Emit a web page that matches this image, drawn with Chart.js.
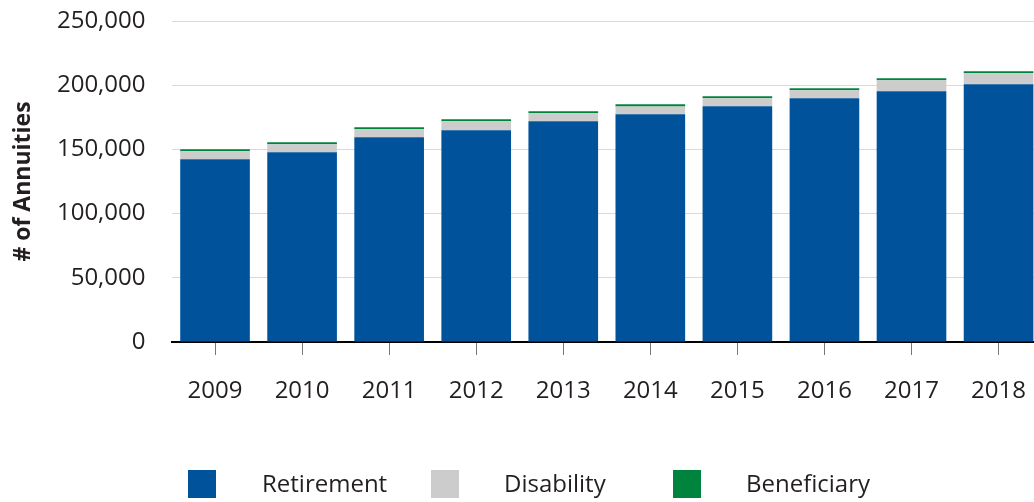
<!DOCTYPE html>
<html>
<head>
<meta charset="utf-8">
<script src="https://cdn.jsdelivr.net/npm/chart.js@4"></script>
<style>
  html, body { margin: 0; padding: 0; background: #fff; overflow: hidden; }
  #wrap { position: relative; width: 1048px; height: 502px; }
  #legend { position: absolute; left: 0; top: 0; width: 1034px; height: 502px; pointer-events: none;
            font-family: 'Open Sans', sans-serif; font-size: 24px; color: #231f20; }
  .lg-box { position: absolute; top: 470px; width: 28px; height: 28px; }
  .lg-text { position: absolute; top: 469px; line-height: 28px; white-space: nowrap; }
</style>
</head>
<body>
<div id="wrap">
  <canvas id="annuityChart"></canvas>
  <div id="legend"></div>
</div>
<script>
const years = ['2009', '2010', '2011', '2012', '2013', '2014', '2015', '2016', '2017', '2018'];
const retirement = [142300, 147700, 159400, 164900, 171900, 177300, 183600, 189800, 195200, 200700];
const disability = [6200, 6300, 6200, 7000, 6200, 6200, 6200, 6200, 8600, 8600];
const beneficiary = [1600, 1600, 1600, 1600, 1600, 1600, 1600, 1600, 1600, 1600];
const yTicks = [0, 50000, 100000, 150000, 200000, 250000];

const seriesNames = ['Retirement', 'Disability', 'Beneficiary'];
const seriesColors = ['#00539b', '#cccccc', '#00843d'];
const textColor = '#231f20';

const datasets = [retirement, disability, beneficiary].map((vals, i) => ({
    label: seriesNames[i],
    data: vals,
    backgroundColor: seriesColors[i],
    borderWidth: 0,
    categoryPercentage: 1,
    barPercentage: 0.8
}));

new Chart(document.getElementById('annuityChart').getContext('2d'), {
    type: 'bar',
    data: { labels: years, datasets: datasets },
    options: {
        responsive: true,
        maintainAspectRatio: false,
        animation: false,
        layout: { padding: { left: 10, top: 21, right: 0, bottom: 100 } },
        plugins: { legend: { display: false }, tooltip: { enabled: false } },
        scales: {
            x: {
                stacked: true,
                grid: { offset: false, drawOnChartArea: false, drawTicks: true, tickLength: 13, color: '#777777', lineWidth: 1 },
                border: { display: true, color: '#000000', width: 2 },
                ticks: { color: textColor, font: { family: "'Open Sans', sans-serif", size: 24 }, padding: 22, maxRotation: 0 },
                afterFit: s => { s.height = 60; }
            },
            y: {
                stacked: true,
                min: 0,
                max: 250000,
                afterBuildTicks: s => { s.ticks = yTicks.map(v => ({ value: v })); },
                // invisible tick marks give the gap between labels and grid
                grid: { color: '#d9d9d9', lineWidth: 1, drawTicks: true, tickLength: 26, tickColor: 'rgba(0,0,0,0)' },
                border: { display: false },
                ticks: {
                    color: textColor,
                    font: { family: "'Open Sans', sans-serif", size: 24 },
                    padding: 0,
                    callback: v => v.toLocaleString('en-US')
                },
                title: {
                    display: true,
                    text: '# of Annuities',
                    color: textColor,
                    font: { family: "'Open Sans', sans-serif", size: 23, weight: 'bold' },
                    padding: 0
                },
                afterFit: s => { s.width = 161.5; }
            }
        }
    }
});

// legend drawn as html under the plot
const legendEl = document.getElementById('legend');
const boxLeft = [188, 431, 673];
const textLeft = [262, 504, 746];
seriesNames.forEach((name, i) => {
    const box = document.createElement('div');
    box.className = 'lg-box';
    box.style.left = boxLeft[i] + 'px';
    box.style.background = seriesColors[i];
    legendEl.appendChild(box);
    const txt = document.createElement('div');
    txt.className = 'lg-text';
    txt.style.left = textLeft[i] + 'px';
    txt.textContent = name;
    legendEl.appendChild(txt);
});
</script>
</body>
</html>
